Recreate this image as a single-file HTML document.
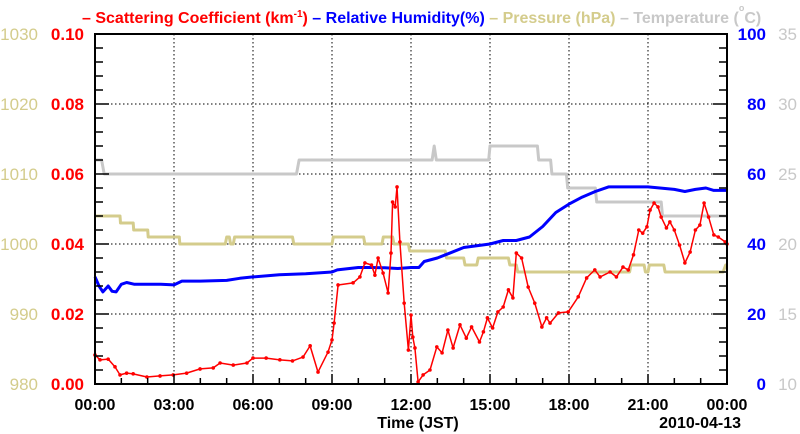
<!DOCTYPE html>
<html><head><meta charset="utf-8"><style>
body{margin:0;background:#fff;}
svg{display:block;font-family:"Liberation Sans",sans-serif;}
</style></head><body>
<svg id="chart" width="800" height="434" viewBox="0 0 800 434" xmlns="http://www.w3.org/2000/svg">
<g font-size="16" font-weight="bold">
<text x="82" y="23"><tspan fill="#ff0000">– Scattering Coefficient (km</tspan><tspan fill="#ff0000" font-size="10" dy="-6">-1</tspan><tspan fill="#ff0000" dy="6">)</tspan><tspan fill="#0000ff"> – Relative Humidity(%)</tspan><tspan fill="#d4cc8c"> – Pressure (hPa)</tspan><tspan fill="#c8c8c8"> – Temperature (</tspan><tspan fill="#c8c8c8" font-size="9" dy="-12">o</tspan><tspan fill="#c8c8c8" dy="12">C)</tspan></text>
</g>
<g id="grid"></g>
<g id="series"></g>
<rect x="95" y="34" width="632" height="350" fill="none" stroke="#000" stroke-width="2"/>
<g id="axes"></g>
<text x="418" y="428" font-size="16" font-weight="bold" text-anchor="middle">Time (JST)</text>
<text x="741" y="428" font-size="16" font-weight="bold" text-anchor="end">2010-04-13</text>
</svg>
<script>
const xTickLabels=["00:00","03:00","06:00","09:00","12:00","15:00","18:00","21:00","00:00"];
const scatTicks=["0.00","0.02","0.04","0.06","0.08","0.10"];
const rhTicks=["0","20","40","60","80","100"];
const presTicks=["980","990","1000","1010","1020","1030"];
const tempTicks=["10","15","20","25","30","35"];

const scatT=[0,0.19,0.5,0.76,0.95,1.2,1.45,1.97,2.47,2.97,3.48,3.99,4.49,4.75,5.25,5.77,6.0,6.5,7.02,7.5,7.9,8.17,8.47,8.85,9.0,9.08,9.23,9.8,10.06,10.25,10.5,10.63,10.75,10.94,11.13,11.24,11.3,11.4,11.47,11.58,11.74,11.9,12.0,12.07,12.15,12.27,12.46,12.72,12.98,13.18,13.4,13.6,13.86,14.1,14.3,14.6,14.75,14.9,15.1,15.3,15.5,15.7,15.87,16.0,16.2,16.45,16.7,16.97,17.15,17.28,17.6,17.97,18.35,18.67,18.98,19.18,19.56,19.8,20.05,20.25,20.45,20.65,20.8,20.96,21.08,21.23,21.38,21.5,21.7,21.83,22.0,22.2,22.4,22.6,22.8,22.97,23.13,23.3,23.5,23.67,23.93,24];
const scatV=[0.0083,0.0069,0.0071,0.0049,0.0026,0.0031,0.0029,0.0020,0.0023,0.0026,0.0031,0.0043,0.0046,0.0060,0.0054,0.0060,0.0074,0.0074,0.0069,0.0066,0.0077,0.0109,0.0034,0.0091,0.0126,0.0174,0.0283,0.0289,0.0306,0.0346,0.0340,0.0311,0.0360,0.0317,0.0260,0.0374,0.0520,0.0506,0.0563,0.0406,0.0231,0.0097,0.0197,0.0134,0.0103,0.0006,0.0026,0.0040,0.0106,0.0089,0.0154,0.0103,0.0169,0.0131,0.0163,0.0120,0.0149,0.0189,0.0160,0.0206,0.0220,0.0269,0.0246,0.0374,0.0360,0.0277,0.0231,0.0163,0.0189,0.0174,0.0203,0.0206,0.0249,0.0303,0.0326,0.0306,0.0320,0.0306,0.0334,0.0326,0.0369,0.0440,0.0431,0.0449,0.0497,0.0517,0.0506,0.0477,0.0446,0.0463,0.0440,0.0397,0.0346,0.0377,0.0440,0.0454,0.0517,0.0477,0.0426,0.0420,0.0406,0.0400];

const rhT=[0,0.15,0.3,0.5,0.65,0.8,1.0,1.2,1.5,2.0,2.5,3.0,3.3,4.0,5.0,5.5,6.0,7.0,8.0,9.0,9.2,10.0,10.5,11.0,11.5,12.0,12.3,12.5,13.0,13.5,14.0,14.5,15.0,15.5,16.0,16.5,17.0,17.5,18.0,18.5,19.0,19.5,20.5,21.0,22.0,22.4,22.8,23.2,23.5,24];
const rhV=[30.6,28,26.3,28,26.5,26.3,28.5,29,28.5,28.5,28.5,28.3,29.4,29.4,29.6,30.2,30.6,31.2,31.5,32,32.6,33.3,33.3,33.2,33,33.3,33.3,35,36,37.5,39,39.5,40,41,41,42,45,49,51.4,53.4,55,56.3,56.3,56.3,55.6,55,55.6,56,55.3,55.3];

const presT=[0,0.95,0.97,1.45,1.47,2.0,2.02,3.2,3.22,4.95,5.0,5.1,5.15,5.25,5.3,7.5,7.55,9.0,9.05,10.2,10.25,10.9,10.95,11.3,11.35,11.9,11.95,13.3,13.35,14.0,14.05,14.5,14.55,15.7,15.75,16.0,16.05,20.3,20.35,20.85,20.9,21.0,21.05,21.6,21.65,23.85,23.95,24];
const presV=[1004,1004,1003,1003,1002,1002,1001,1001,1000,1000,1001,1001,1000,1000,1001,1001,1000,1000,1001,1001,1000,1000,1001,1001,1000,1000,999,999,998,998,997,997,998,998,997,997,996,996,997,997,996,996,997,997,996,996,997,997];

const tempT=[0,0.25,0.35,7.65,7.75,12.8,12.88,12.96,14.95,15.0,16.8,16.85,17.3,17.35,17.9,17.95,19.0,19.05,21.5,21.55,24];
const tempV=[26,26,25,25,26,26,27,26,26,27,27,26,26,25,25,24,24,23,23,22,22];

const L=95,R=727,T=34,B=384;
const xs=t=>L+(R-L)*t/24;
const yScat=v=>B-(B-T)*v/0.10;
const yRH=v=>B-(B-T)*v/100;
const yPres=v=>B-(B-T)*(v-980)/50;
const yTemp=v=>B-(B-T)*(v-10)/25;
const NS="http://www.w3.org/2000/svg";
function mk(tag,attrs,parent){const e=document.createElementNS(NS,tag);for(const k in attrs)e.setAttribute(k,attrs[k]);parent.appendChild(e);return e;}
const grid=document.getElementById('grid'),axes=document.getElementById('axes'),ser=document.getElementById('series');

// vertical grid + x labels
for(let i=0;i<xTickLabels.length;i++){
  const x=xs(i*3);
  if(i>0&&i<xTickLabels.length-1){const g=mk('line',{x1:x,y1:T,x2:x,y2:B,stroke:'#000','stroke-width':1,'stroke-dasharray':'1.5,2.5'},grid);
  
  }
  const tx=mk('text',{x:x,y:410,'font-size':16,'font-weight':'bold','text-anchor':'middle'},axes);
  tx.textContent=xTickLabels[i];
  
  
}
for(let h=1;h<24;h++){const x=xs(h);const len=(h%3===0)?10:6;
  const tk=mk('line',{x1:x,y1:B,x2:x,y2:B-len,stroke:'#000','stroke-width':1.5},axes);
  
  }
// horizontal grid + y labels
for(let i=0;i<scatTicks.length;i++){
  const y=B-(B-T)*i/5;
  if(i>0&&i<5){const g=mk('line',{x1:L,y1:y,x2:R,y2:y,stroke:'#000','stroke-width':1,'stroke-dasharray':'1.5,2.5'},grid);
  
  }
  const a=mk('text',{x:84,y:y+6,'font-size':17,'font-weight':'bold',fill:'#ff0000','text-anchor':'end'},axes);a.textContent=scatTicks[i];
  
  
  const p=mk('text',{x:38,y:y+6,'font-size':17,fill:'#d4cc8c','text-anchor':'end'},axes);p.textContent=presTicks[i];
  
  
  const r=mk('text',{x:766,y:y+6,'font-size':17,'font-weight':'bold',fill:'#0000ff','text-anchor':'end'},axes);r.textContent=rhTicks[i];
  
  
  const t=mk('text',{x:797,y:y+6,'font-size':17,fill:'#c8c8c8','text-anchor':'end'},axes);t.textContent=tempTicks[i];
  
  
}
for(let j=1;j<25;j++){const y=B-(B-T)*j/25;const len=(j%5===0)?14:8;
  const a=mk('line',{x1:L,y1:y,x2:L+len,y2:y,stroke:'#000','stroke-width':1.5},axes);
  
  
  const b=mk('line',{x1:R,y1:y,x2:R-len,y2:y,stroke:'#000','stroke-width':1.5},axes);
  
  }

function line(ts,vs,yf,color,w,name){
  const pts=ts.map((t,i)=>xs(t).toFixed(1)+','+yf(vs[i]).toFixed(1)).join(' ');
  const pl=mk('polyline',{points:pts,fill:'none',stroke:color,'stroke-width':w,'stroke-linejoin':'round'},ser);
  
  
}
line(tempT,tempV,yTemp,'#c8c8c8',3,'temperature-line');
line(presT,presV,yPres,'#d4cc8c',3,'pressure-line');
line(rhT,rhV,yRH,'#0000ff',3,'humidity-line');
line(scatT,scatV,yScat,'#ff0000',1.5,'scattering-line');
for(let i=0;i<scatT.length;i++){
  const c=mk('circle',{cx:xs(scatT[i]),cy:yScat(scatV[i]),r:1.8,fill:'#ff0000'},ser);
  
  
}
</script>
</body></html>
